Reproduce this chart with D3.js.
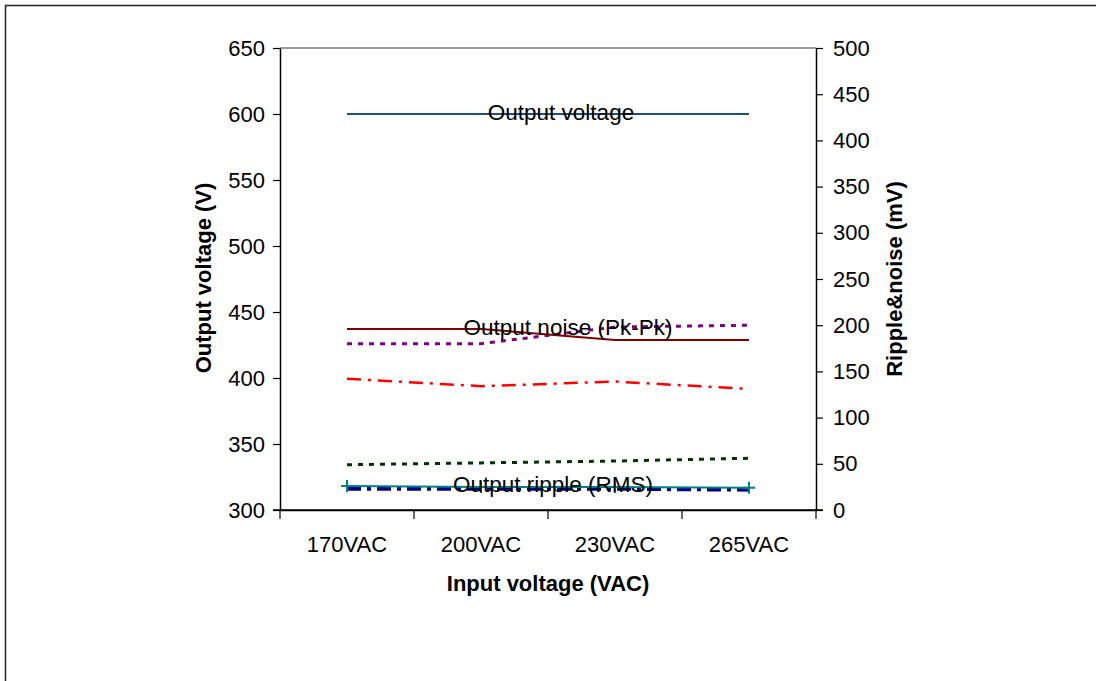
<!DOCTYPE html>
<html>
<head>
<meta charset="utf-8">
<script src="https://cdn.jsdelivr.net/npm/d3@7"></script>
<style>
  body { margin: 0; background: #fff; }
  text { font-family: "Liberation Sans", Arial, sans-serif; }
</style>
</head>
<body>
<script>
// Categories and values
var inputVoltages = ["170VAC", "200VAC", "230VAC", "265VAC"];
var outputVoltage = [600, 600, 600, 600];          // left axis (V)
var noisePkPk = [196, 196, 184, 184];              // right axis (mV)
var noisePurple = [180, 180, 198, 200];
var redDashDot = [142, 134, 139, 131];
var greenDotted = [49, 51, 53, 56];
var navyDashDot = [23, 23, 23, 22];
var rippleRMS = [26, 25, 25, 24];
var leftTicks = [300, 350, 400, 450, 500, 550, 600, 650];
var rightTicks = [0, 50, 100, 150, 200, 250, 300, 350, 400, 450, 500];

var svgWidth = 1096;
var svgHeight = 681;

var chartMargin = { top: 48, right: 280, bottom: 171, left: 280 };
var chartWidth = svgWidth - chartMargin.left - chartMargin.right;
var chartHeight = svgHeight - chartMargin.top - chartMargin.bottom;

var svg = d3.select("body")
  .append("svg")
  .attr("width", svgWidth)
  .attr("height", svgHeight);

// outer frame (right and bottom run off the picture)
svg.append("rect")
  .attr("x", 5.5).attr("y", 5.5)
  .attr("width", 1200).attr("height", 800)
  .attr("fill", "none")
  .attr("stroke", "#222")
  .attr("stroke-width", 1.5);

var chartGroup = svg.append("g")
  .attr("transform", `translate(${chartMargin.left}, ${chartMargin.top})`);

var xBandScale = d3.scaleBand()
  .domain(inputVoltages)
  .range([0, chartWidth]);

var yLeft = d3.scaleLinear().domain([300, 650]).range([chartHeight, 0]);
var yRight = d3.scaleLinear().domain([0, 500]).range([chartHeight, 0]);

var xMid = d => xBandScale(d) + xBandScale.bandwidth() / 2;

// plot area top border
chartGroup.append("line")
  .attr("x1", 0).attr("x2", chartWidth)
  .attr("y1", 0).attr("y2", 0)
  .attr("stroke", "#999").attr("stroke-width", 2);

var leftAxis = d3.axisLeft(yLeft).tickValues(leftTicks).tickSize(7).tickSizeOuter(0);
var rightAxis = d3.axisRight(yRight).tickValues(rightTicks).tickSize(7).tickSizeOuter(0);
var bottomAxis = d3.axisBottom(xBandScale).tickSize(0).tickSizeOuter(0);

function styleAxis(g) {
  g.attr("font-size", 22);
  g.selectAll("path").attr("stroke", "#000").attr("stroke-width", 1.5);
  g.selectAll("line").attr("stroke", "#000").attr("stroke-width", 1.2);
  g.selectAll("text")
    .attr("font-size", 22)
    .attr("fill", "#000")
    .style("font-family", "'Liberation Sans', Arial, sans-serif");
}

chartGroup.append("g")
  .call(leftAxis)
  .call(styleAxis)
  .call(g => g.selectAll("text").attr("x", -15));

chartGroup.append("g")
  .attr("transform", `translate(${chartWidth}, 0)`)
  .call(rightAxis)
  .call(styleAxis)
  .call(g => g.selectAll("text").attr("x", 17));

var xAxisG = chartGroup.append("g")
  .attr("transform", `translate(0, ${chartHeight})`)
  .call(bottomAxis)
  .call(styleAxis)
  .call(g => g.selectAll("text").attr("y", 26).attr("dy", "0.71em"));

// tick marks at band boundaries
xAxisG.selectAll(".bnd")
  .data(d3.range(inputVoltages.length + 1))
  .enter()
  .append("line")
  .attr("x1", i => i * xBandScale.step())
  .attr("x2", i => i * xBandScale.step())
  .attr("y1", 0).attr("y2", 9)
  .attr("stroke", "#000").attr("stroke-width", 1.2);

// x-axis line extending under left/right ticks
xAxisG.append("line")
  .attr("x1", -7).attr("x2", chartWidth + 7)
  .attr("y1", 0).attr("y2", 0)
  .attr("stroke", "#000").attr("stroke-width", 1.5);

// series
var series = [
  { values: navyDashDot, scale: yRight, color: "#000080", width: 4, dash: "14,6,4,6" },
  { values: rippleRMS, scale: yRight, color: "#008080", width: 2, dash: null, marker: true },
  { values: greenDotted, scale: yRight, color: "#003300", width: 3, dash: "5,6" },
  { values: redDashDot, scale: yRight, color: "#ff0000", width: 2.5, dash: "14,7,3,7" },
  { values: noisePurple, scale: yRight, color: "#800080", width: 3, dash: "5,6" },
  { values: noisePkPk, scale: yRight, color: "#800000", width: 2, dash: null },
  { values: outputVoltage, scale: yLeft, color: "#1f4e79", width: 2, dash: null }
];

series.forEach(function(s) {
  var line = d3.line()
    .x((d, i) => xMid(inputVoltages[i]))
    .y(d => s.scale(d));

  chartGroup.append("path")
    .datum(s.values)
    .attr("d", line)
    .attr("fill", "none")
    .attr("stroke", s.color)
    .attr("stroke-width", s.width)
    .attr("stroke-dasharray", s.dash);

  if (s.marker) {
    chartGroup.selectAll(null)
      .data(s.values)
      .enter()
      .append("path")
      .attr("d", (d, i) => {
        var x = xMid(inputVoltages[i]), y = s.scale(d);
        return `M${x - 6},${y}H${x + 6}M${x},${y - 6}V${y + 6}`;
      })
      .attr("stroke", s.color)
      .attr("stroke-width", 2);
  }
});

// series labels on the plot
var labels = [
  { text: "Output voltage", x: 281, y: yLeft(600) - 2 },
  { text: "Output noise (Pk-Pk)", x: 288, y: yRight(198) },
  { text: "Output ripple (RMS)", x: 273, y: yRight(28) }
];

chartGroup.selectAll(".lbl")
  .data(labels)
  .enter()
  .append("text")
  .attr("x", d => d.x)
  .attr("y", d => d.y)
  .attr("dy", "0.35em")
  .attr("text-anchor", "middle")
  .attr("font-size", 22.5)
  .attr("fill", "#000")
  .text(d => d.text);

// axis titles
svg.append("text")
  .attr("x", chartMargin.left + chartWidth / 2)
  .attr("y", 591)
  .attr("text-anchor", "middle")
  .attr("font-size", 22)
  .attr("font-weight", "bold")
  .text("Input voltage (VAC)");

svg.append("text")
  .attr("transform", `translate(211, 278) rotate(-90)`)
  .attr("text-anchor", "middle")
  .attr("font-size", 22)
  .attr("font-weight", "bold")
  .text("Output voltage (V)");

svg.append("text")
  .attr("transform", `translate(902, 279) rotate(-90)`)
  .attr("text-anchor", "middle")
  .attr("font-size", 22)
  .attr("font-weight", "bold")
  .text("Ripple&noise (mV)");
</script>
</body>
</html>
